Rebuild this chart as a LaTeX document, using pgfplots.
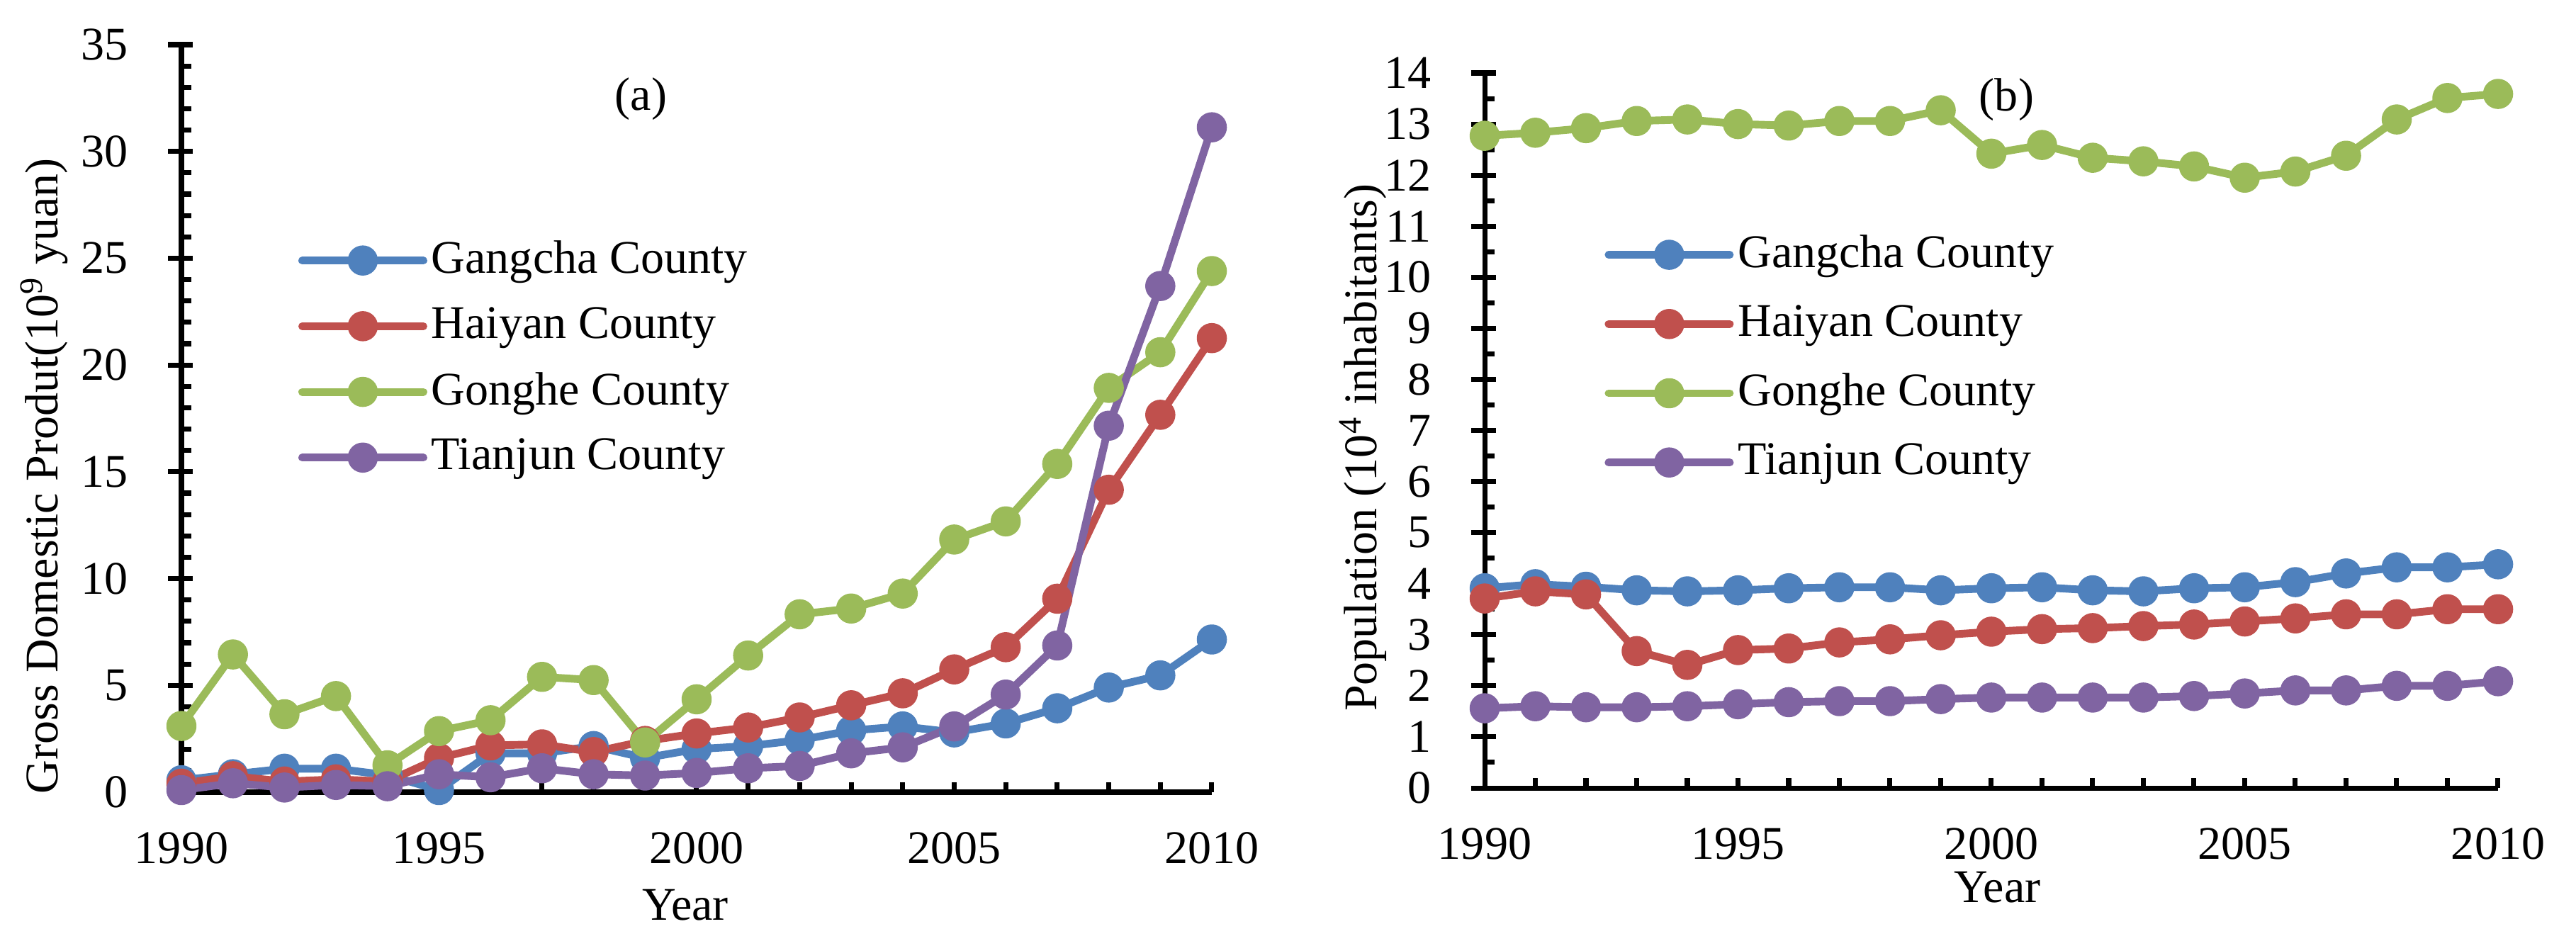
\documentclass[border=0pt]{standalone}
\usepackage{fontspec}
\setmainfont{Liberation Serif}
\usepackage{pgfplots}
\pgfplotsset{compat=1.18}

\definecolor{cBlue}{HTML}{4F81BD}
\definecolor{cRed}{HTML}{C0504D}
\definecolor{cGreen}{HTML}{9BBB59}
\definecolor{cPurple}{HTML}{8064A2}

\pgfplotsset{
  refstyle/.style={
    scale only axis,
    anchor=south west,
    axis lines=left,
    axis line style={-, line width=2pt, black},
    tick style={black, line width=2pt},
    tick align=inside,
    major tick length=0.35cm,
    minor tick length=0.14cm,
    major y tick style={xshift=-0.19cm},
    major x tick style={draw=none},
    xmin=1990, xmax=2010,
    xtick={1990,1995,...,2010},
    minor xtick={1990,...,2010},
    xticklabels={1990,1995,2000,2005,2010},
    ymin=0,
    clip=false,
    /pgf/number format/assume math mode=true,
    xticklabel style={yshift=-0.34cm},
    yticklabel style={xshift=-0.53cm},
    legend cell align=left,
    legend style={draw=none, fill=none, inner sep=0pt, anchor=north west,
      nodes={inner sep=0.06cm}},
    legend image code/.code={
      \draw[##1, mark repeat=2, mark phase=2] plot coordinates {(0cm,0cm) (0.855cm,0cm) (1.71cm,0cm)};
    },
    every axis plot/.append style={line width=3.1pt, line join=round, line cap=round,
      mark=*, mark size=4.5pt},
  },
  ser/.style={color=#1, mark options={solid, fill=#1, draw=none}},
}

\begin{document}
\fontsize{18.8}{22.6}\selectfont
\begin{tikzpicture}
\begin{axis}[refstyle,
  at={(2.56cm,2.09cm)}, width=14.54cm, height=10.55cm,
  ymax=35, ytick={0,5,...,35}, minor y tick num=4,
  ylabel={Gross Domestic Produt(10\textsuperscript{9} yuan)},
  ylabel style={at={(axis description cs:-0.1334,0.423)}, anchor=center},
  xlabel={Year},
  xlabel style={at={(axis description cs:0.489,0)}, anchor=north, yshift=-1.14cm},
  legend style={at={(axis description cs:0.113,0.744)}, row sep=0.26cm},
]
\addplot[ser=cBlue] coordinates {(1990,0.56)(1991,0.84)(1992,1.1)(1993,1.1)(1994,0.8)(1995,0.1)(1996,1.82)(1997,1.82)(1998,2.16)(1999,1.6)(2000,2.02)(2001,2.16)(2002,2.44)(2003,2.89)(2004,3.08)(2005,2.8)(2006,3.22)(2007,3.93)(2008,4.9)(2009,5.47)(2010,7.15)};
\addlegendentry{Gangcha County}
\addplot[ser=cRed] coordinates {(1990,0.4)(1991,0.75)(1992,0.5)(1993,0.6)(1994,0.5)(1995,1.6)(1996,2.19)(1997,2.24)(1998,1.88)(1999,2.4)(2000,2.75)(2001,3.03)(2002,3.5)(2003,4.07)(2004,4.63)(2005,5.75)(2006,6.79)(2007,9.06)(2008,14.16)(2009,17.67)(2010,21.26)};
\addlegendentry{Haiyan County}
\addplot[ser=cGreen] coordinates {(1990,3.1)(1991,6.45)(1992,3.65)(1993,4.5)(1994,1.26)(1995,2.86)(1996,3.37)(1997,5.4)(1998,5.25)(1999,2.33)(2000,4.35)(2001,6.4)(2002,8.33)(2003,8.6)(2004,9.3)(2005,11.83)(2006,12.68)(2007,15.37)(2008,18.93)(2009,20.6)(2010,24.4)};
\addlegendentry{Gonghe County}
\addplot[ser=cPurple] coordinates {(1990,0.1)(1991,0.42)(1992,0.22)(1993,0.34)(1994,0.28)(1995,0.84)(1996,0.7)(1997,1.12)(1998,0.84)(1999,0.78)(2000,0.9)(2001,1.12)(2002,1.23)(2003,1.82)(2004,2.1)(2005,3.08)(2006,4.57)(2007,6.87)(2008,17.16)(2009,23.7)(2010,31.13)};
\addlegendentry{Tianjun County}
\node at (axis description cs:0.446,0.927) {(a)};
\end{axis}

\begin{axis}[refstyle,
  at={(20.95cm,2.15cm)}, width=14.30cm, height=10.09cm,
  ymax=14, ytick={0,1,...,14}, minor y tick num=1,
  ylabel={Population (10\textsuperscript{4} inhabitants)},
  ylabel style={at={(axis description cs:-0.1203,0.476)}, anchor=center},
  xlabel={Year},
  xlabel style={at={(axis description cs:0.506,0)}, anchor=north, yshift=-0.95cm},
  legend style={at={(axis description cs:0.118,0.780)}, row sep=0.31cm},
]
\addplot[ser=cBlue] coordinates {(1990,3.91)(1991,3.99)(1992,3.94)(1993,3.87)(1994,3.85)(1995,3.87)(1996,3.91)(1997,3.93)(1998,3.93)(1999,3.87)(2000,3.91)(2001,3.93)(2002,3.87)(2003,3.85)(2004,3.91)(2005,3.93)(2006,4.03)(2007,4.2)(2008,4.32)(2009,4.32)(2010,4.38)};
\addlegendentry{Gangcha County}
\addplot[ser=cRed] coordinates {(1990,3.71)(1991,3.85)(1992,3.79)(1993,2.68)(1994,2.41)(1995,2.7)(1996,2.73)(1997,2.85)(1998,2.91)(1999,2.99)(2000,3.06)(2001,3.11)(2002,3.13)(2003,3.17)(2004,3.2)(2005,3.26)(2006,3.32)(2007,3.4)(2008,3.4)(2009,3.5)(2010,3.5)};
\addlegendentry{Haiyan County}
\addplot[ser=cGreen] coordinates {(1990,12.77)(1991,12.83)(1992,12.92)(1993,13.06)(1994,13.09)(1995,13.0)(1996,12.97)(1997,13.06)(1998,13.06)(1999,13.27)(2000,12.42)(2001,12.59)(2002,12.34)(2003,12.27)(2004,12.17)(2005,11.95)(2006,12.07)(2007,12.38)(2008,13.09)(2009,13.51)(2010,13.59)};
\addlegendentry{Gonghe County}
\addplot[ser=cPurple] coordinates {(1990,1.56)(1991,1.6)(1992,1.58)(1993,1.58)(1994,1.6)(1995,1.64)(1996,1.68)(1997,1.7)(1998,1.7)(1999,1.74)(2000,1.77)(2001,1.77)(2002,1.77)(2003,1.77)(2004,1.8)(2005,1.85)(2006,1.91)(2007,1.91)(2008,2.0)(2009,2.0)(2010,2.09)};
\addlegendentry{Tianjun County}
\node at (axis description cs:0.515,0.963) {(b)};
\end{axis}
\pgfresetboundingbox
\path[use as bounding box] (0,0) rectangle (36.35,13.27);
\end{tikzpicture}
\end{document}
